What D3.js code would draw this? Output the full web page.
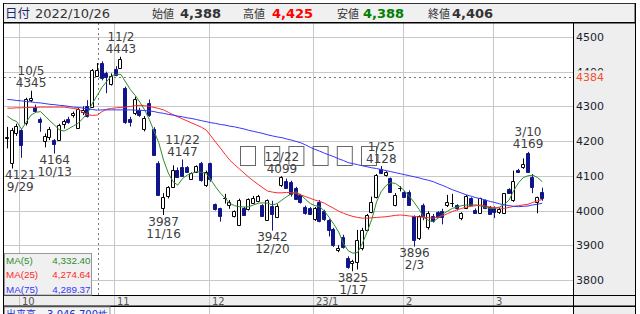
<!DOCTYPE html>
<html><head><meta charset="utf-8">
<script src="https://cdn.jsdelivr.net/npm/d3@7"></script>
<style>body{margin:0;background:#fff}svg{display:block}</style>
</head><body><svg id="c" width="640" height="314"></svg>
<script>
const dates = ["9/28","9/29","9/30",
"10/3","10/4","10/5","10/6","10/7","10/11","10/12","10/13","10/14","10/17","10/18","10/19","10/20","10/21","10/24","10/25","10/26","10/27","10/28","10/31",
"11/1","11/2","11/4","11/7","11/8","11/9","11/10","11/11","11/14","11/15","11/16","11/17","11/18","11/21","11/22","11/24","11/25","11/28","11/29","11/30",
"12/1","12/2","12/5","12/6","12/7","12/8","12/9","12/12","12/13","12/14","12/15","12/16","12/19","12/20","12/21","12/22","12/23","12/26","12/27","12/28","12/29","12/30",
"1/4","1/5","1/6","1/10","1/11","1/12","1/13","1/16","1/17","1/18","1/19","1/20","1/23","1/24","1/25","1/26","1/27","1/30","1/31",
"2/1","2/2","2/3","2/6","2/7","2/8","2/9","2/10","2/13","2/14","2/15","2/16","2/17","2/20","2/21","2/22","2/24","2/27","2/28",
"3/1","3/2","3/3","3/6","3/7","3/8","3/9","3/10","3/13","3/14","3/15"];
const openV = [4210,4138,4222,4232,4251,4318,4299,4264,4200,4212,4203,4203,4248,4265,4274,4239,4285,4301,4299,4388,4424,4397,4364,
4409,4412,4352,4265,4280,4290,4235,4310,4236,4137,4006,4042,4068,4116,4124,4126,4092,4112,4136,4073,
4136,4018,4006,4035,4016,3985,3958,4006,4004,4023,4026,4016,3973,4014,3982,4073,4085,4083,4064,4045,4011,4008,
3975,4025,3998,3973,3948,3886,3925,3864,3850,3852,3891,3944,3997,4040,4119,4102,4093,4016,4064,
4054,4054,3984,3920,4016,3953,3984,3996,4000,4016,4022,4016,3977,4006,4035,4001,3992,4030,4011,
4008,3996,3992,4061,4030,4117,4126,4165,4097,4025,4054];
const highV = [4241,4238,4250,4235,4325,4345,4305,4268,4222,4241,4206,4250,4262,4270,4285,4295,4300,4318,4408,4425,4430,4400,4395,
4416,4443,4357,4270,4328,4296,4272,4320,4240,4142,4050,4070,4130,4124,4147,4128,4110,4130,4140,4115,
4138,4020,4008,4048,4030,4000,4034,4010,4035,4042,4045,4018,4032,4028,4018,4099,4092,4086,4068,4048,4014,4010,
4010,4030,4002,3975,3950,3900,3930,3868,3858,3944,3950,3990,4040,4105,4128,4113,4095,4050,4070,
4056,4058,3986,3986,4020,3998,3990,3998,4005,4045,4048,4018,3995,4045,4038,4006,4037,4032,4013,
4012,4008,4049,4064,4115,4120,4150,4169,4105,4040,4066];
const lowV = [4179,4121,4215,4152,4245,4312,4283,4227,4182,4203,4164,4200,4236,4250,4268,4235,4275,4268,4296,4388,4375,4338,4360,
4387,4408,4250,4242,4275,4270,4228,4270,4160,4046,3987,4035,4066,4097,4098,4110,4088,4108,4083,4068,
4083,4000,3968,4020,4005,3980,3955,3985,4000,4020,4024,3984,3970,3942,3978,4068,4062,4040,4030,4020,3988,3987,
3970,3966,3970,3925,3895,3880,3890,3832,3825,3830,3885,3940,3992,4035,4105,4098,4054,4012,4055,
4038,4014,3896,3915,3972,3945,3965,3980,3960,4010,4010,4000,3972,4004,4014,3990,3990,4004,3990,
3978,3990,3990,4050,4025,4108,4120,4112,4050,3992,4028];
const closeV = [4212,4232,4244,4188,4320,4323,4286,4254,4214,4236,4193,4246,4258,4256,4280,4292,4290,4273,4405,4406,4381,4385,4388,
4390,4438,4256,4256,4320,4276,4268,4275,4160,4046,4040,4068,4118,4097,4100,4112,4109,4128,4088,4112,
4090,4004,3985,4036,4024,3998,4030,3988,4032,4037,4041,3985,4030,3990,4014,4097,4066,4048,4032,4024,3994,3990,
4006,3970,3975,3944,3900,3893,3895,3838,3854,3915,3944,3987,4025,4102,4107,4112,4054,4044,4065,
4040,4016,3915,3984,3984,3994,3970,3982,3982,4025,4023,4006,3992,4041,4016,3992,4035,4006,3990,
3995,4004,4049,4051,4086,4112,4134,4112,4068,4038,4035];
const ma5 = [4272,4262,4256,4234,4255,4275,4283,4285,4272,4258,4246,4232,4229,4236,4244,4252,4266,4282,4310,4332,4355,4372,4388,
4393,4392,4370,4348,4332,4312,4290,4262,4228,4195,4145,4108,4083,4073,4092,4102,4107,4112,4110,4107,
4088,4068,4050,4036,4020,4014,4011,4010,4011,4016,4021,4022,4021,4016,4020,4030,4040,4048,4054,4045,4032,4020,
4014,4011,3998,3980,3960,3938,3905,3884,3877,3879,3905,3938,3975,4025,4055,4072,4080,4078,4068,
4055,4040,4022,4003,3980,3971,3968,3978,3990,3998,4006,4010,4014,4016,4016,4016,4013,4009,4006,
4006,4010,4018,4030,4058,4080,4095,4100,4102,4095,4083];
const ma25 = [4295,4295,4296,4296,4297,4297,4297,4298,4298,4298,4298,4298,4298,4296,4294,4292,4282,4276,4274,4275,4285,4292,4294,
4296,4297,4298,4300,4302,4303,4302,4300,4297,4294,4290,4283,4276,4270,4264,4258,4252,4246,4240,4232,
4215,4197,4180,4162,4145,4132,4120,4108,4096,4085,4075,4065,4056,4053,4051,4051,4052,4052,4049,4045,4040,4035,
4030,4026,4021,4013,4006,3998,3992,3987,3983,3980,3978,3978,3979,3980,3981,3982,3984,3986,3987,
3986,3984,3983,3981,3980,3979,3978,3981,3985,3991,3997,4002,4006,4010,4012,4014,4016,4013,4010,
4008,4007,4006,4009,4012,4014,4016,4018,4023,4028,4032];
const ma75 = [4320,4319,4317,4316,4314,4313,4311,4310,4308,4306,4305,4303,4302,4300,4298,4297,4295,4293,4291,4289,4290,4290,4290,
4290,4290,4290,4290,4289,4289,4288,4287,4285,4282,4280,4277,4275,4272,4270,4267,4265,4262,4259,4256,
4253,4251,4248,4246,4243,4241,4238,4235,4231,4228,4225,4222,4218,4215,4212,4210,4206,4203,4199,4195,4189,4182,
4176,4171,4165,4160,4155,4149,4144,4138,4135,4132,4129,4126,4123,4121,4118,4115,4112,4109,4106,
4103,4100,4097,4094,4090,4087,4083,4077,4072,4066,4060,4055,4050,4045,4041,4037,4034,4030,4026,
4023,4019,4016,4014,4012,4011,4012,4013,4016,4018,4021];
const priceTicks = [3800,3900,4000,4100,4200,4300,4400,4500];
const monthStarts = ["10/3","11/1","12/1","1/4","2/1","3/1"];
const monthLabels = ["10","11","12","23/1","2","3"];
const peakDates = ["9/29","10/5","10/13","11/2","11/16","11/22","12/20","12/22","1/17","1/25","2/3","3/10"];
const peakValues = [4121,4345,4164,4443,3987,4147,3942,4099,3825,4128,3896,4169];
const peakKinds = ["low","high","low","high","low","high","low","high","low","high","low","high"];
const maNames = ["MA(5)","MA(25)","MA(75)"];
const maValues = ["4,332.40","4,274.64","4,289.37"];
const headerDate = "2022/10/26";
const headerLabels = ["始値","高値","安値","終値"];
const headerValues = ["4,388","4,425","4,388","4,406"];
const crossDate = "10/26", crossPrice = 4384;

const svg = d3.select("#c");
const L = 4, R = 573, T = 23, B = 295;
const pads = d3.range(6).map(i => "pad" + i);
const x = d3.scaleBand().domain(dates.concat(pads)).range([5, R]).padding(0);
const y = d3.scaleLinear().domain([3800, 4500]).range([279.9, 37]);
const cx = d => x(d) + x.bandwidth() / 2;
const px = d => Math.floor(cx(d)) + 0.5;

const CJK = "'Noto Sans CJK JP', sans-serif";
const DV = "'DejaVu Sans', sans-serif";

// background panels
svg.append("rect").attr("x",0).attr("y",0).attr("width",640).attr("height",314).attr("fill","#fff");
svg.append("rect").attr("x",3.5).attr("y",3.5).attr("width",631.5).attr("height",19).attr("fill","#f0f0f0").attr("stroke","#333");
svg.append("rect").attr("x",R).attr("y",23).attr("width",62).attr("height",291).attr("fill","#eeeeee");
svg.append("rect").attr("x",L).attr("y",B).attr("width",R-L).attr("height",11).attr("fill","#eeeeee");

const g = svg.append("g");
// gridlines
g.selectAll(".hg").data(priceTicks).join("line")
  .attr("x1",L).attr("x2",R).attr("y1",d=>Math.round(y(d))+0.5).attr("y2",d=>Math.round(y(d))+0.5)
  .attr("stroke","#c8c8c8");
g.selectAll(".vg").data(monthStarts).join("line")
  .attr("x1",d=>Math.round(x(d))+0.5).attr("x2",d=>Math.round(x(d))+0.5).attr("y1",T).attr("y2",314)
  .attr("stroke","#c8c8c8");
// crosshair
g.append("line").attr("x1",Math.round(cx(crossDate))+1.5).attr("x2",Math.round(cx(crossDate))+1.5)
  .attr("y1",T).attr("y2",B).attr("stroke","#777").attr("stroke-dasharray","2,3");
g.append("line").attr("x1",L).attr("x2",R).attr("y1",Math.round(y(crossPrice))+0.5).attr("y2",Math.round(y(crossPrice))+0.5)
  .attr("stroke","#777").attr("stroke-dasharray","2,3");

// tofu boxes (unrendered watermark glyphs)
const tofu = d3.range(6);
g.selectAll(".tofu").data(tofu).join("rect")
  .attr("x",i=>240.5+i*24.2).attr("y",146.5).attr("width",15).attr("height",19)
  .attr("fill","none").attr("stroke","#666");

// candles
const up = "#000", dn = "#10168a";
const cg = svg.append("g");
dates.forEach((d,i)=>{
  const o=openV[i], c=closeV[i], h=highV[i], l=lowV[i];
  const isUp = c >= o;
  const col = isUp ? up : dn;
  const xx = px(d);
  cg.append("line").attr("x1",xx).attr("x2",xx).attr("y1",y(h)).attr("y2",y(l)).attr("stroke",col);
  const yt = Math.round(y(Math.max(o,c)))+0.5, yb = Math.round(y(Math.min(o,c)))+0.5;
  cg.append("path").attr("d",`M${xx-2},${yt}H${xx+1}V${yb}H${xx-2}Z`)
    .attr("fill", isUp ? "#fff" : dn).attr("stroke", col);
});

// moving averages
const maColors = ["#2e8b2e","#ff2a2a","#3535ff"];
[ma5, ma25, ma75].forEach((arr,k)=>{
  const line = d3.line().x((v,i)=>cx(dates[i])).y(v=>y(v));
  svg.append("path").attr("d",line(arr)).attr("fill","none").attr("stroke",maColors[k]).attr("stroke-width",1);
});

// peak annotations
const ag = svg.append("g").attr("font-family",DV).attr("font-size",12).attr("fill","#404040");
peakDates.forEach((d,i)=>{
  const v = peakValues[i], yy = y(v);
  const lines = peakKinds[i]==="high" ? [d, String(v)] : [String(v), d];
  const base = peakKinds[i]==="high" ? [yy-15.5, yy-3.5] : [yy+10.5, yy+22.5];
  const tg = ag.append("g");
  const ts = lines.map((t,j)=>tg.append("text").attr("y",base[j]).attr("text-anchor","middle").text(t));
  const w = Math.max(...ts.map(t=>t.node().getComputedTextLength()));
  let c = cx(d);
  c = Math.max(c, L + 1 + w/2); c = Math.min(c, R - 1 - w/2);
  ts.forEach(t=>t.attr("x",c));
});

// frame lines
svg.append("line").attr("x1",3.5).attr("x2",3.5).attr("y1",3).attr("y2",314).attr("stroke","#000");
svg.append("line").attr("x1",R+0.5).attr("x2",R+0.5).attr("y1",22).attr("y2",314).attr("stroke","#000");
svg.append("line").attr("x1",635.5).attr("x2",635.5).attr("y1",3).attr("y2",314).attr("stroke","#000");
svg.append("line").attr("x1",3).attr("x2",636).attr("y1",22.75).attr("y2",22.75).attr("stroke","#000").attr("stroke-width",1.5);
svg.append("line").attr("x1",3).attr("x2",636).attr("y1",295.5).attr("y2",295.5).attr("stroke","#000");
svg.append("line").attr("x1",3).attr("x2",636).attr("y1",306.25).attr("y2",306.25).attr("stroke","#000").attr("stroke-width",1.5);

// right axis labels
const yl = svg.append("g").attr("font-family",DV).attr("font-size",11).attr("fill","#1c1c30");
yl.selectAll("text").data(priceTicks).join("text")
  .attr("x",576).attr("y",d=>y(d)+4).text(d=>d);
svg.append("rect").attr("x",574).attr("y",Math.round(y(crossPrice))-6.5).attr("width",40).attr("height",12).attr("fill","#eeeeee");
svg.append("text").attr("x",576).attr("y",y(crossPrice)+4).attr("font-family",DV).attr("font-size",11)
  .attr("fill","#f0502e").text(crossPrice);

// bottom month labels
svg.append("g").attr("font-family",DV).attr("font-size",10).attr("fill","#555")
  .selectAll("text").data(monthStarts).join("text")
  .attr("x",d=>Math.round(x(d))+3).attr("y",304.5).text((d,i)=>monthLabels[i]);

// MA legend
const lg = svg.append("g");
lg.append("rect").attr("x",4.5).attr("y",253.5).attr("width",87).attr("height",41.5).attr("fill","#f0f0f0").attr("stroke","#999");
maNames.forEach((n,k)=>{
  lg.append("text").attr("x",6).attr("y",264+k*14.4).attr("font-family","'Liberation Sans', sans-serif")
    .attr("font-size",9.8).attr("fill",maColors[k]).text(n);
  lg.append("text").attr("x",90.5).attr("y",264+k*14.4).attr("text-anchor","end").attr("font-family","'Liberation Sans', sans-serif")
    .attr("font-size",9.8).attr("fill",maColors[k]).text(maValues[k]);
});

// volume legend (clipped at bottom)
svg.append("rect").attr("x",4.5).attr("y",307).attr("width",105.5).attr("height",12).attr("fill","#f4f4f4").attr("stroke","#999");
svg.append("text").attr("x",6).attr("y",318).attr("font-family",CJK).attr("font-size",10).attr("fill","#2233cc").text("出来高");
svg.append("text").attr("x",108).attr("y",318).attr("text-anchor","end").attr("font-family",DV).attr("font-size",10).attr("fill","#2233cc").text("3,046,700株");

// header
const hd = svg.append("g");
hd.append("text").attr("x",5).attr("y",18).attr("font-family",CJK).attr("font-size",12.5).attr("fill","#1a2a6a").text("日付");
hd.append("text").attr("x",35).attr("y",18).attr("font-family",DV).attr("font-size",13).attr("fill","#333").text(headerDate);
const hx = [152,243,337,428], vx = [180,272,363,452];
const vcol = ["#333","#ff0000","#008000","#333"];
headerLabels.forEach((t,i)=>{
  hd.append("text").attr("x",hx[i]).attr("y",18).attr("font-family",CJK).attr("font-size",11).attr("fill","#333").text(t);
  hd.append("text").attr("x",vx[i]).attr("y",18).attr("font-family",DV).attr("font-weight","bold").attr("font-size",13).attr("fill",vcol[i]).text(headerValues[i]);
});
</script>
</body></html>
